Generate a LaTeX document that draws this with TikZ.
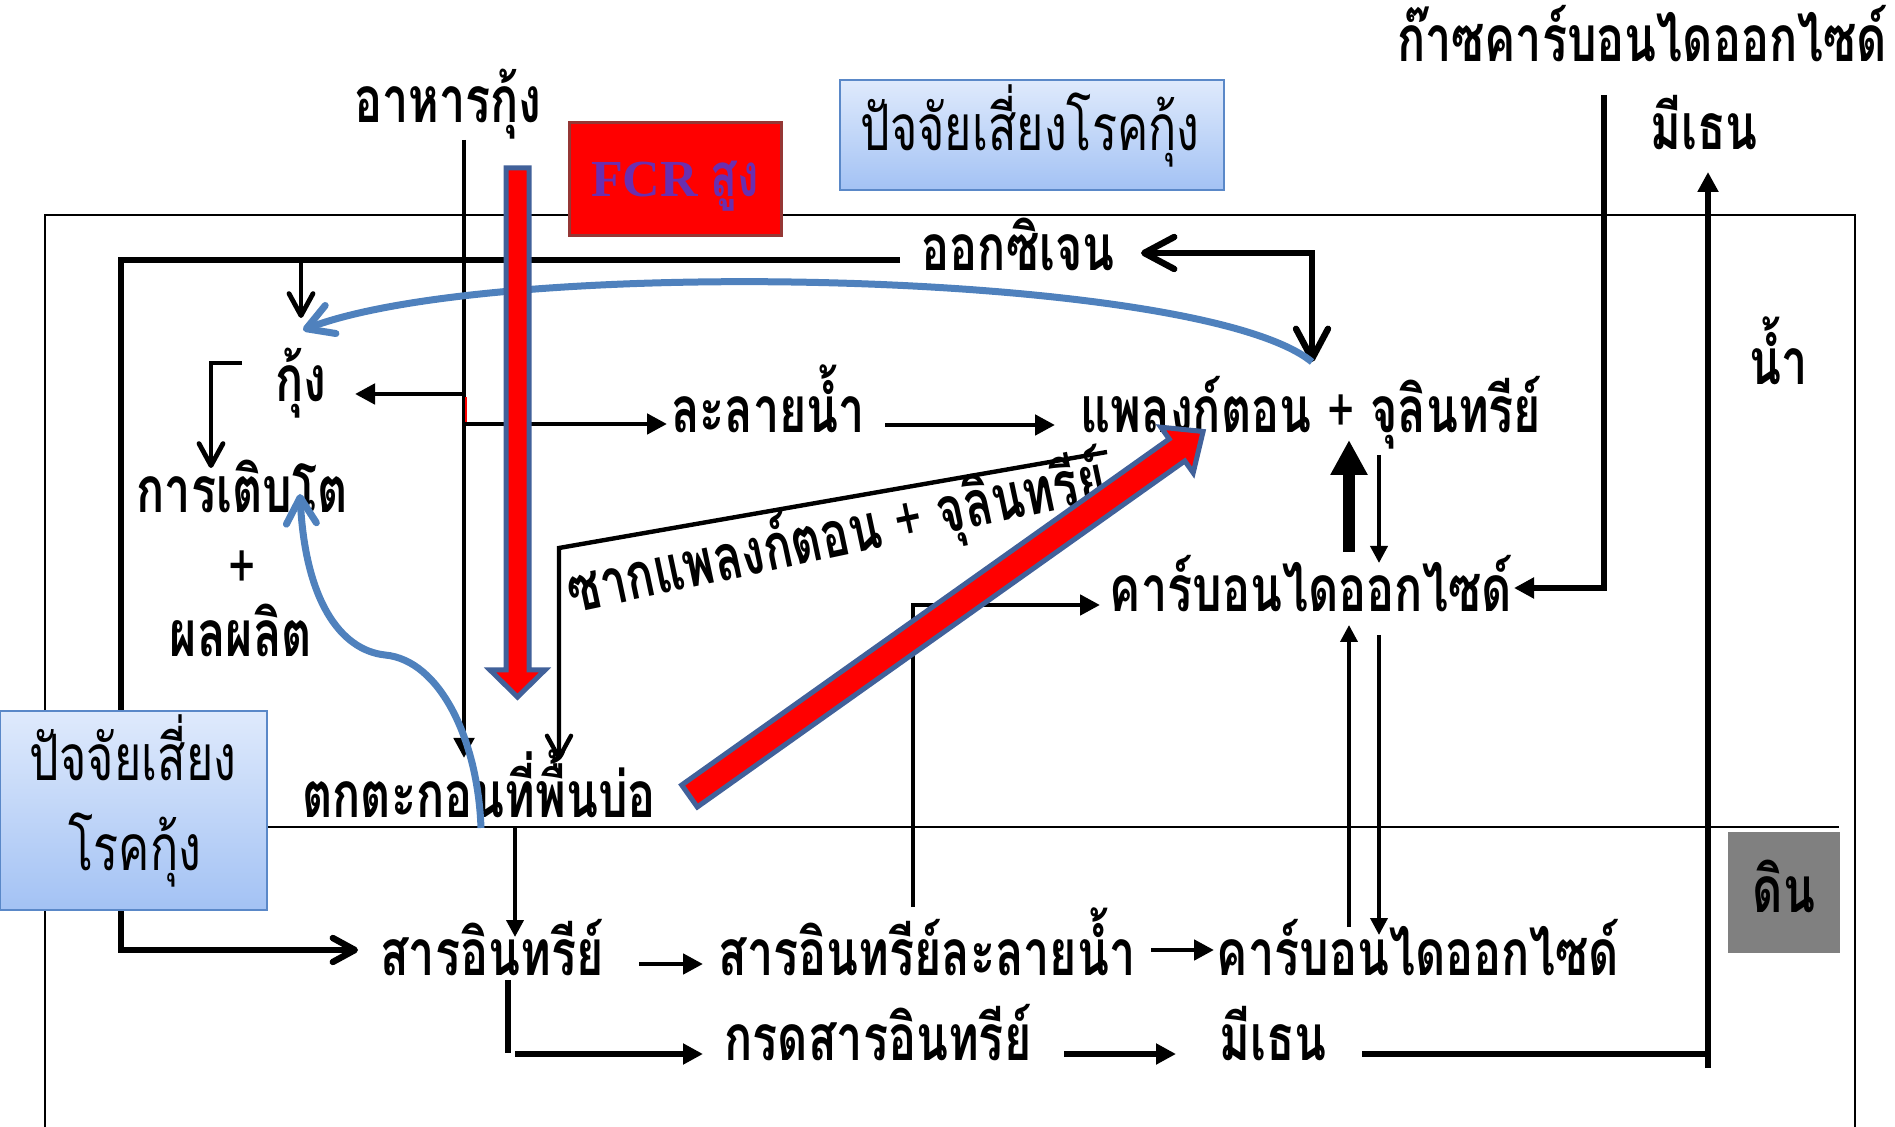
\documentclass[tikz,border=0pt]{standalone}
\usepackage{fontspec}
\usetikzlibrary{arrows.meta}
\setmainfont{Liberation Serif}
\newfontfamily\thai[Script=Thai,FakeStretch=0.73]{Loma}
\definecolor{curveblue}{HTML}{4F81BD}
\definecolor{redborder}{HTML}{41619A}
\definecolor{fcrborder}{HTML}{953735}
\definecolor{fcrtext}{HTML}{6A2FB0}
\definecolor{boxtop}{HTML}{DFEAFC}
\definecolor{boxbot}{HTML}{A3C2F4}
\definecolor{boxline}{HTML}{5A88C8}
\definecolor{soilgray}{HTML}{808080}
\begin{document}
\begin{tikzpicture}[x=0.5pt,y=-0.5pt,
  lbl/.style={font=\thai\bfseries\fontsize{32}{36}\selectfont,inner sep=0pt,anchor=base},
  boxtxt/.style={font=\thai\fontsize{32}{36}\selectfont,inner sep=0pt,anchor=base},
  conn/.style={line width=2.4pt},
  heavy/.style={line width=3.2pt},
  tri/.style={-{Triangle[length=10pt,width=10pt]}},
  smalltri/.style={-{Triangle[length=8.5pt,width=8.5pt]}},
  barb/.style={-{Straight Barb[length=11pt,width=12pt,round]}},
  riskbox/.style={draw=boxline,line width=1pt,top color=boxtop,bottom color=boxbot,inner sep=0pt},
  bluecurve/.style={draw=curveblue,line width=3.5pt,-{Straight Barb[length=13pt,width=15pt,round]}},
  redarrow/.style={fill=red,draw=redborder,line width=2.5pt,line join=miter},
]
\useasboundingbox (0,0) rectangle (1895,1127);
% frame and divider
\draw[line width=0.9pt] (45,1127) -- (45,215) -- (1855,215) -- (1855,1127);
\draw[line width=1pt] (45,827) -- (1839,827);

% text labels
\node[lbl] (food) at (448,123) {อาหารกุ้ง};
\node[lbl] (oxy) at (1018,271) {ออกซิเจน};
\node[lbl] (shrimp) at (301,402) {กุ้ง};
\node[lbl] (diss) at (768,433) {ละลายน้ำ};
\node[lbl] (plank) at (1311,433) {แพลงก์ตอน {\mdseries +} จุลินทรีย์};
\node[lbl] (growth) at (242,513) {การเติบโต};
\node[lbl,anchor=center,font=\thai\fontsize{32}{36}\selectfont] (plus) at (242,570) {+};
\node[lbl] (yield) at (241,657) {ผลผลิต};
\node[lbl] (sed) at (479,817) {ตกตะกอนที่พื้นบ่อ};
\node[lbl,rotate=12] (dead) at (841,556) {ซากแพลงก์ตอน {\mdseries +} จุลินทรีย์};
\node[lbl] (co2w) at (1311,612) {คาร์บอนไดออกไซด์};
\node[lbl] (org) at (492,975) {สารอินทรีย์};
\node[lbl] (dorg) at (927,975) {สารอินทรีย์ละลายน้ำ};
\node[lbl] (co2s) at (1418,975) {คาร์บอนไดออกไซด์};
\node[lbl] (acid) at (878,1060) {กรดสารอินทรีย์};
\node[lbl] (ch4s) at (1273,1060) {มีเธน};
\node[lbl] (ch4a) at (1704,150) {มีเธน};
\node[lbl] (co2gas) at (1642,62) {ก๊าซคาร์บอนไดออกไซด์};
\node[lbl] (water) at (1779,385) {น้ำ};

% connectors
\coordinate (fA) at (464,140); \coordinate (fB) at (464,758);
\draw[conn,tri] (fA) -- (fB);
\coordinate (fS) at (464,394); \coordinate (shE) at (355,394);
\draw[conn,tri] (fS) -- (shE);
\coordinate (fD) at (464,424); \coordinate (dW) at (667,424);
\draw[conn,tri] (fD) -- (dW);
\draw[red,line width=0.8pt] (466,397) -- (466,422);

\coordinate (oxW) at (900,260); \coordinate (orgW) at (358,950);
\draw[heavy,barb] (oxW) -- (121,260) -- (121,950) -- (orgW);
\coordinate (oxB) at (301,260); \coordinate (shN) at (301,318);
\draw[conn,barb] (oxB) -- (shN);

\coordinate (oxE) at (1141,253); \coordinate (plN) at (1312,362);
\draw[heavy,{Straight Barb[length=15pt,width=16pt,round]}-{Straight Barb[length=15pt,width=16pt,round]}] (oxE) -- (1312,253) -- (plN);

\coordinate (shW) at (242,363); \coordinate (grN) at (211,468);
\draw[conn,barb] (shW) -- (211,363) -- (grN);

\coordinate (dE) at (885,425); \coordinate (plW) at (1055,425);
\draw[conn,tri] (dE) -- (plW);

\coordinate (cwN1) at (1349,552); \coordinate (plS1) at (1349,440);
\draw[line width=6pt,-{Triangle[length=17.5pt,width=17.5pt]}] (cwN1) -- (plS1);
\coordinate (plS2) at (1379,455); \coordinate (cwN2) at (1379,563);
\draw[line width=1.9pt,smalltri] (plS2) -- (cwN2);

\coordinate (gasS) at (1604,95); \coordinate (cwE) at (1514,588);
\draw[line width=2.8pt,tri] (gasS) -- (1604,588) -- (cwE);

\coordinate (msBot) at (1708,1068); \coordinate (maS) at (1708,172);
\draw[line width=2.8pt,tri] (msBot) -- (maS);
\coordinate (msE) at (1362,1054); \coordinate (msJ) at (1708,1054);
\draw[line width=2.8pt] (msE) -- (msJ);

\coordinate (doN) at (913,907); \coordinate (cwW) at (1100,605);
\draw[conn,tri] (doN) -- (913,605) -- (cwW);

\coordinate (csN1) at (1349,927); \coordinate (cwS1) at (1349,625);
\draw[line width=1.9pt,smalltri] (csN1) -- (cwS1);
\coordinate (cwS2) at (1379,635); \coordinate (csN2) at (1379,935);
\draw[line width=1.9pt,smalltri] (cwS2) -- (csN2);

\coordinate (doE) at (1151,950); \coordinate (csW) at (1214,950);
\draw[conn,tri] (doE) -- (csW);
\coordinate (orE) at (639,964); \coordinate (doW) at (703,964);
\draw[conn,tri] (orE) -- (doW);
\coordinate (sedS) at (515,827); \coordinate (orN) at (515,937);
\draw[line width=2pt,smalltri] (sedS) -- (orN);
\coordinate (orS) at (508,980); \coordinate (orS2) at (508,1053);
\draw[line width=2.8pt] (orS) -- (orS2);
\coordinate (acL) at (515,1054); \coordinate (acW) at (703,1054);
\draw[line width=2.8pt,tri] (acL) -- (acW);
\coordinate (acE) at (1064,1054); \coordinate (msW) at (1176,1054);
\draw[line width=2.8pt,tri] (acE) -- (msW);

\coordinate (deadE) at (1107,452); \coordinate (sedN) at (559,760);
\draw[line width=2.2pt,barb] (deadE) -- (559,548) -- (sedN);

% blue curved arrows
\draw[bluecurve] (plN) .. controls (1200,270) and (500,255) .. (303,330);
\draw[bluecurve] (481,828) .. controls (478,740) and (440,660) .. (385,655) .. controls (340,650) and (305,600) .. (300,494);

% red arrows
\draw[redarrow] (506,168) -- (529,168) -- (529,670) -- (545,670) -- (517.5,697) -- (490,670) -- (506,670) -- cycle;
\draw[redarrow] (681.7,785) -- (1169.2,439) -- (1160.8,427.2) -- (1203.1,431.5) -- (1193.2,472.8) -- (1184.8,461) -- (697.3,807) -- cycle;

% boxes
\node[draw=fcrborder,fill=red,line width=1.5pt,minimum width=106pt,minimum height=56.5pt,inner sep=0pt] (fcrbox) at (675,179.5) {};
\node[font=\bfseries\fontsize{26}{30}\selectfont,text=fcrtext,inner sep=0pt,anchor=base] (fcr) at (675,197) {FCR {\thai\bfseries\fontsize{30}{34}\selectfont สูง}};
\node[riskbox,minimum width=192pt,minimum height=55pt] (riskT) at (1032,135) {};
\node[boxtxt] (risktop) at (1030,151) {ปัจจัยเสี่ยงโรคกุ้ง};
\node[riskbox,minimum width=133.5pt,minimum height=99.5pt] (riskL) at (133.5,810.5) {};
\node[boxtxt] (riskl1) at (133,780) {ปัจจัยเสี่ยง};
\node[boxtxt] (riskl2) at (135,870) {โรคกุ้ง};
\node[fill=soilgray,minimum width=56pt,minimum height=60.5pt,inner sep=0pt] (soilbox) at (1784,892.5) {};
\node[lbl] (soil) at (1784,912) {ดิน};
\end{tikzpicture}
\end{document}
